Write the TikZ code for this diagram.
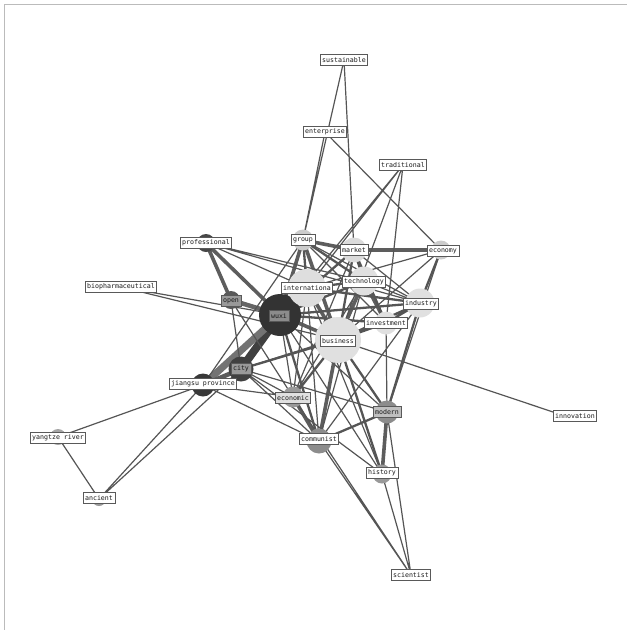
\documentclass[tikz,border=0pt]{standalone}
\usepackage{xcolor}
\usepackage{fontspec}
\setmonofont{DejaVu Sans Mono}
\usepackage{tikz}
\usetikzlibrary{backgrounds}
\definecolor{tiegray}{HTML}{555555}
\definecolor{tiedark}{HTML}{404040}
\definecolor{framegray}{HTML}{BBBBBB}
\tikzset{
  term/.style={rectangle,draw=gray!70!black,line width=0.8pt,fill=white,
    font=\fontsize{6.6}{8}\ttfamily,inner sep=2pt,minimum height=11pt,text=black!90},
  blob/.style={circle,inner sep=0pt,draw=none,minimum size=#1},
  tie/.style={line width=1.2pt,color=tiegray},
  tiemid/.style={line width=2.3pt,color=tiegray},
  tiethick/.style={line width=3.6pt,color=tiedark!85},
  tieheavy/.style={line width=8pt,color=tiedark},
}

\begin{document}
\begin{tikzpicture}[x=1pt,y=-1pt]
  \useasboundingbox (0,0) rectangle (627,630);
  \draw[framegray,line width=0.8pt] (4,630) -- (4,4) -- (627,4);

  % keyword bubbles
  \node[blob=42pt,fill=black!80] (wuxi) at (280,315) {};
  \node[blob=25pt,fill=black!75] (city) at (241,369) {};
  \node[blob=23pt,fill=black!78] (jiangsu) at (203,385) {};
  \node[blob=18pt,fill=black!65] (open) at (231,300) {};
  \node[blob=18pt,fill=black!72] (prof) at (206,243) {};
  \node[blob=38pt,fill=black!13] (intl) at (307,288) {};
  \node[blob=46pt,fill=black!12] (biz) at (338,340) {};
  \node[blob=21pt,fill=black!20] (grp) at (303,240) {};
  \node[blob=25pt,fill=black!14] (mkt) at (354,250) {};
  \node[blob=29pt,fill=black!12] (tech) at (364,281) {};
  \node[blob=19pt,fill=black!20] (econ) at (441,250) {};
  \node[blob=29pt,fill=black!12] (ind) at (420,303) {};
  \node[blob=23pt,fill=black!12] (inv) at (386,323) {};
  \node[blob=21pt,fill=black!40] (ecn) at (293,397) {};
  \node[blob=23pt,fill=black!45] (mod) at (387,412) {};
  \node[blob=25pt,fill=black!45] (comm) at (319,441) {};
  \node[blob=19pt,fill=black!40] (hist) at (382,474) {};
  \node[blob=16pt,fill=black!35] (yang) at (58,437) {};
  \node[blob=14pt,fill=black!40] (anc) at (99,499) {};
  \node[blob=12pt,fill=black!28] (bio) at (121,287) {};
  \node[blob=12pt,fill=black!20] (sci) at (411,575) {};
  \node[blob=10pt,fill=black!12] (innov) at (565,416) {};

  % labels
  \node[term] (sust) at (344,60) {sustainable};
  \node[term] (ent) at (325,132) {enterprise};
  \node[term] (trad) at (403,165) {traditional};
  \node[term] at (grp) {group};
  \node[term] at (206,243) {professional};
  \node[term] at (mkt) {market};
  \node[term] at (443,251) {economy};
  \node[term] at (121,287) {biopharmaceutical};
  \node[term] at (364,282) {technology};
  \node[term] at (307,288) {internationa};
  \node[term] at (421,304) {industry};
  \node[term,fill=black!40] at (231,301) {open};
  \node[term,fill=black!45] at (279,316) {wuxi};
  \node[term] at (386,323) {investment};
  \node[term] at (338,341) {business};
  \node[term,fill=black!40] at (241,369) {city};
  \node[term] at (203,384) {jiangsu province};
  \node[term,fill=black!12] at (293,398) {economic};
  \node[term,fill=black!25] at (387,412) {modern};
  \node[term] at (575,416) {innovation};
  \node[term] at (58,438) {yangtze river};
  \node[term] at (319,439) {communist};
  \node[term] at (382,473) {history};
  \node[term] at (99,498) {ancient};
  \node[term] at (411,575) {scientist};

  \begin{scope}[on background layer]
    % heavy ties
    \draw[tieheavy] (wuxi.center) -- (city.center);
    \draw[tieheavy,color=black!55,line width=7pt] (wuxi.center) -- (jiangsu.center);
    \draw[tiethick,line width=4.5pt,color=black!60] (open.center) -- (wuxi.center);
    \draw[tiethick,line width=4.5pt] (city.center) -- (jiangsu.center);
    \draw[tiethick] (wuxi.center) -- (intl.center) (wuxi.center) -- (grp.center)
      (wuxi.center) -- (biz.center) (grp.center) -- (biz.center)
      (prof.center) -- (open.center) (prof.center) -- (wuxi.center)
      (grp.center) -- (mkt.center) (mkt.center) -- (econ.center)
      (tech.center) -- (inv.center) (tech.center) -- (biz.center)
      (intl.center) -- (biz.center) (biz.center) -- (comm.center)
      (ecn.center) -- (comm.center) (mod.center) -- (hist.center);
    % medium ties
    \draw[tiemid] (wuxi.center) -- (mkt.center) (wuxi.center) -- (tech.center)
      (wuxi.center) -- (inv.center) (wuxi.center) -- (ind.center)
      (grp.center) -- (tech.center) (grp.center) -- (intl.center)
      (mkt.center) -- (tech.center) (mkt.center) -- (biz.center)
      (mkt.center) -- (inv.center) (intl.center) -- (tech.center)
      (intl.center) -- (ind.center) (biz.center) -- (inv.center)
      (biz.center) -- (ind.center) (biz.center) -- (hist.center)
      (biz.center) -- (mod.center) (biz.center) -- (ecn.center)
      (econ.center) -- (ind.center) (ind.center) -- (mod.center)
      (mod.center) -- (comm.center) (wuxi.center) -- (comm.center)
      (city.center) -- (biz.center) (ind.center) -- (inv.center);
    % thin ties
    \draw[tie] (sust) -- (grp.center) (sust) -- (mkt.center)
      (ent) -- (grp.center) (ent) -- (econ.center)
      (trad) -- (intl.center) (trad) -- (wuxi.center)
      (trad) -- (inv.center) (trad) -- (biz.center)
      (bio.center) -- (wuxi.center) (bio.center) -- (biz.center)
      (yang.center) -- (jiangsu.center) (yang.center) -- (anc.center)
      (anc.center) -- (jiangsu.center) (anc.center) -- (city.center)
      (innov.center) -- (biz.center)
      (sci.center) -- (comm.center) (sci.center) -- (hist.center)
      (sci.center) -- (mod.center) (sci.center) -- (ecn.center)
      (jiangsu.center) -- (comm.center) (jiangsu.center) -- (ecn.center)
      (jiangsu.center) -- (grp.center)
      (city.center) -- (ecn.center) (city.center) -- (mod.center)
      (city.center) -- (comm.center) (city.center) -- (hist.center)
      (city.center) -- (inv.center)
      (wuxi.center) -- (ecn.center) (wuxi.center) -- (hist.center)
      (wuxi.center) -- (mod.center)
      (open.center) -- (city.center) (open.center) -- (ecn.center)
      (prof.center) -- (intl.center) (prof.center) -- (ind.center)
      (prof.center) -- (tech.center)
      (econ.center) -- (intl.center) (econ.center) -- (biz.center)
      (econ.center) -- (mod.center)
      (ecn.center) -- (intl.center) (ecn.center) -- (tech.center)
      (ecn.center) -- (mkt.center)
      (comm.center) -- (ind.center) (comm.center) -- (tech.center)
      (comm.center) -- (intl.center)
      (hist.center) -- (intl.center) (inv.center) -- (mod.center)
      (grp.center) -- (ind.center) (grp.center) -- (inv.center)
      (mkt.center) -- (ind.center) (tech.center) -- (ind.center);
  \end{scope}
\end{tikzpicture}
\end{document}
